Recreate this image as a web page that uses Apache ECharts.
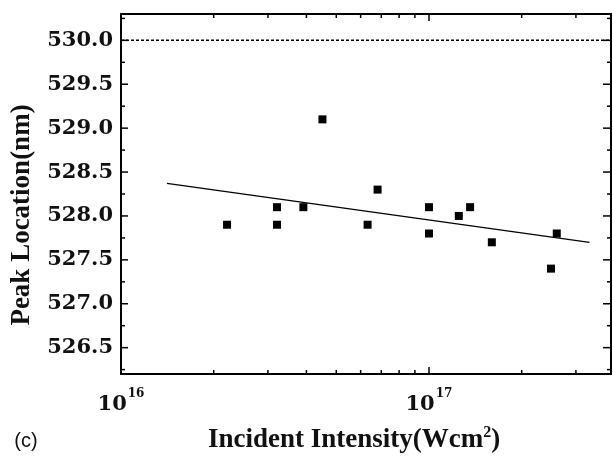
<!DOCTYPE html>
<html>
<head>
<meta charset="utf-8">
<style>
  html, body { margin: 0; padding: 0; background: #fff; }
  #chart { width: 613px; height: 457px; }
</style>
<script src="https://cdn.jsdelivr.net/npm/echarts@6/dist/echarts.min.js"></script>
</head>
<body>
<div id="chart"></div>
<script>
// Measured peak positions versus incident intensity
const intensity = [2.21e16, 3.21e16, 3.21e16, 3.91e16, 4.51e16, 6.32e16, 6.81e16,
                   1.0e17, 1.0e17, 1.25e17, 1.36e17, 1.60e17, 2.49e17, 2.60e17];
const peak = [527.9, 528.1, 527.9, 528.1, 529.1, 527.9, 528.3,
              528.1, 527.8, 528.0, 528.1, 527.7, 527.4, 527.8];

// Linear fit (straight on the log axis), given by its two end points
const fitX = [1.41e16, 3.32e17];
const fitY = [528.37, 527.70];

// Reference wavelength
const refPeak = 530.0;

// Axis ranges and tick values
const xMin = 1e16, xMax = 3.9e17;
const yMin = 526.2, yMax = 530.3;
const xMinorTicks = [2e16, 3e16, 4e16, 5e16, 6e16, 7e16, 8e16, 9e16, 2e17, 3e17];
const yMajorTicks = [526.5, 527.0, 527.5, 528.0, 528.5, 529.0, 529.5, 530.0];
const yMinorTicks = [526.25, 526.75, 527.25, 527.75, 528.25, 528.75, 529.25, 529.75, 530.25];

const chart = echarts.init(document.getElementById('chart'));

const tickFont = 'DejaVu Serif';
const titleFont = 'Liberation Serif';

function powLabel(v) {
  const e = Math.log10(v);
  const r = Math.round(e);
  if (Math.abs(e - r) > 1e-6) return '';
  return '{b|10}{s|' + r + '}';
}

function halfLabel(v) {
  const twice = v * 2;
  return Math.abs(twice - Math.round(twice)) < 1e-6 && v > yMin + 0.01 && v < yMax - 0.01 ? v.toFixed(1) : '';
}

const xLabelRich = {
  b: { fontFamily: tickFont, fontWeight: 'bold', fontSize: 21, color: '#111', lineHeight: 22 },
  s: { fontFamily: tickFont, fontWeight: 'bold', fontSize: 12, color: '#111', verticalAlign: 'top', padding: [0, 0, 22, 1] }
};

const line = { color: '#000', width: 2 };

// tick marks drawn in data coordinates; axis 'x' = top/bottom edges, 'y' = left/right edges
function tickSeries(values, axis, lenA, lenB) {
  return {
    type: 'custom', xAxisIndex: 0, yAxisIndex: 0,
    silent: true, clip: false, z: 6,
    data: values.map(v => axis === 'x' ? [v, yMin] : [xMin, v]),
    renderItem: function (params, api) {
      const cs = params.coordSys;
      const p = api.coord([api.value(0), api.value(1)]);
      const style = { stroke: '#000', lineWidth: 1.5 };
      if (axis === 'x') {
        return {
          type: 'group', children: [
            { type: 'line', shape: { x1: p[0], y1: cs.y + cs.height, x2: p[0], y2: cs.y + cs.height - lenA }, style: style },
            { type: 'line', shape: { x1: p[0], y1: cs.y, x2: p[0], y2: cs.y + lenB }, style: style }
          ]
        };
      }
      return {
        type: 'group', children: [
          { type: 'line', shape: { x1: cs.x, y1: p[1], x2: cs.x + lenA, y2: p[1] }, style: style },
          { type: 'line', shape: { x1: cs.x + cs.width, y1: p[1], x2: cs.x + cs.width - lenB, y2: p[1] }, style: style }
        ]
      };
    }
  };
}

const option = {
  animation: false,
  backgroundColor: '#fff',
  grid: { left: 121, right: 2, top: 14, bottom: 83, containLabel: false },
  xAxis: [
    {
      type: 'log', logBase: 10, min: xMin, max: xMax, position: 'bottom',
      axisLine: { lineStyle: line },
      axisTick: { inside: true, length: 7, lineStyle: { color: '#000', width: 1.5 } },
      axisLabel: { margin: 14, showMaxLabel: false, formatter: powLabel, rich: xLabelRich },
      splitLine: { show: false }
    },
    {
      type: 'log', logBase: 10, min: xMin, max: xMax, position: 'top',
      axisLine: { lineStyle: line },
      axisTick: { inside: true, length: 7, lineStyle: { color: '#000', width: 1.5 } },
      axisLabel: { show: false },
      splitLine: { show: false }
    }
  ],
  yAxis: [
    {
      type: 'value', min: yMin, max: yMax, interval: 0.1, position: 'left',
      axisLine: { lineStyle: line },
      axisTick: { show: false },
      axisLabel: {
        margin: 8, showMinLabel: false, showMaxLabel: false, hideOverlap: false,
        fontFamily: tickFont, fontWeight: 'bold', fontSize: 21, color: '#111',
        formatter: halfLabel
      },
      splitLine: { show: false }
    },
    {
      type: 'value', min: yMin, max: yMax, interval: 0.1, position: 'right',
      axisLine: { lineStyle: line },
      axisTick: { show: false },
      axisLabel: { show: false },
      splitLine: { show: false }
    }
  ],
  graphic: [
    {
      type: 'text', x: 22, y: 215, rotation: Math.PI / 2,
      style: {
        text: 'Peak Location(nm)', fontFamily: titleFont, fontWeight: 'bold', fontSize: 27,
        fill: '#111', align: 'center', verticalAlign: 'middle'
      }
    },
    {
      type: 'text', x: 354, y: 440,
      style: {
        text: '{t|Incident Intensity(Wcm}{s|2}{t|)}',
        align: 'center', verticalAlign: 'middle',
        rich: {
          t: { fontFamily: titleFont, fontWeight: 'bold', fontSize: 27, fill: '#111' },
          s: { fontFamily: titleFont, fontWeight: 'bold', fontSize: 16, fill: '#111', verticalAlign: 'top', padding: [0, 0, 14, 0] }
        }
      }
    },
    {
      type: 'text', x: 26, y: 441,
      style: {
        text: '(c)', fontFamily: 'Liberation Sans', fontSize: 20, fill: '#111',
        align: 'center', verticalAlign: 'middle'
      }
    }
  ],
  series: [
    {
      type: 'scatter', xAxisIndex: 0, yAxisIndex: 0,
      symbol: 'rect', symbolSize: 8,
      itemStyle: { color: '#000', opacity: 1 },
      data: intensity.map((x, i) => [x, peak[i]]),
      z: 5
    },
    {
      type: 'line', xAxisIndex: 0, yAxisIndex: 0,
      showSymbol: false, symbol: 'none',
      lineStyle: { color: '#000', width: 1.3 },
      data: fitX.map((x, i) => [x, fitY[i]]),
      z: 4
    },
    {
      type: 'line', xAxisIndex: 0, yAxisIndex: 0,
      showSymbol: false, symbol: 'none',
      lineStyle: { color: '#000', width: 1.5, type: [3, 2] },
      data: [[xMin, refPeak], [xMax, refPeak]],
      z: 4
    },
    tickSeries(xMinorTicks, 'x', 4, 4),
    tickSeries(yMajorTicks, 'y', 7, 8),
    tickSeries(yMinorTicks, 'y', 4, 4)
  ]
};

chart.setOption(option);
</script>
</body>
</html>
